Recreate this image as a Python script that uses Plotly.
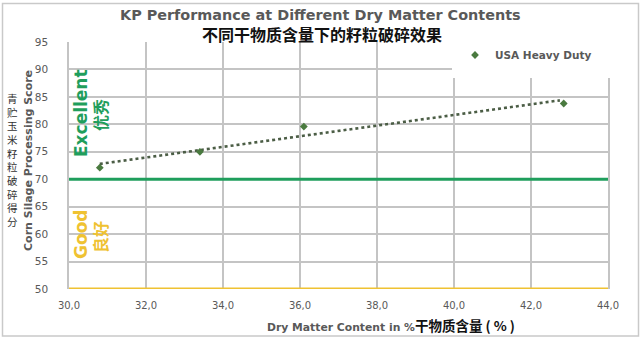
import numpy as np
import plotly.graph_objects as go

# ---- data ----
dry_matter = [30.8, 33.4, 36.1, 42.85]
score = [72.1, 75.0, 79.6, 83.8]
series_name = "USA Heavy Duty"
x_ticks = [30, 32, 34, 36, 38, 40, 42, 44]
x_tick_labels = ["30,0", "32,0", "34,0", "36,0", "38,0", "40,0", "42,0", "44,0"]
y_ticks = [50, 55, 60, 65, 70, 75, 80, 85, 90, 95]
thresholds = [70, 50]
zone_labels = [("Excellent", "优秀"), ("Good", "良好")]
zone_label_y = [113, 235]  # pixel centers (style only)

# ---- layout constants ----
W, H = 640, 339
L, R, T, B = 69, 32, 42, 50
PW, PH = W - L - R, H - T - B

def px_x(px):
    return (px - L) / PW

def px_y(py):
    return (H - B - py) / PH

LAT = "DejaVu Sans"
CJK = "Noto Sans CJK SC"
GRAY = "#595959"
GREEN = "#1f9e5c"
YELLOW = "#efc232"

# trendline (linear fit)
slope, icpt = np.polyfit(dry_matter, score, 1)
tx = [min(dry_matter), max(dry_matter) - 0.1]
ty = [slope * v + icpt for v in tx]

fig = go.Figure()
fig.add_trace(go.Scatter(
    x=tx, y=ty, mode="lines", showlegend=False, hoverinfo="skip",
    line=dict(color="#4b5d45", width=2.6, dash="dot"),
))
fig.add_trace(go.Scatter(
    x=dry_matter, y=score, mode="markers", name=series_name,
    marker=dict(symbol="diamond", size=6, color="#4a7a3f"),
))

shapes = []
# threshold lines
shapes.append(dict(type="line", xref="paper", yref="y", x0=0, x1=1,
                   y0=thresholds[0], y1=thresholds[0],
                   line=dict(color=GREEN, width=3), layer="above"))
shapes.append(dict(type="line", xref="paper", yref="y", x0=0, x1=1,
                   y0=thresholds[1], y1=thresholds[1],
                   line=dict(color=YELLOW, width=3), layer="above"))
# white box behind legend
shapes.append(dict(type="rect", xref="paper", yref="paper",
                   x0=px_x(452), x1=px_x(625), y0=px_y(78), y1=px_y(36),
                   fillcolor="white", line=dict(width=0), layer="above"))
# outer border
shapes.append(dict(type="rect", xref="paper", yref="paper",
                   x0=px_x(2.5), x1=px_x(638.5), y0=px_y(336), y1=px_y(3.5),
                   fillcolor="rgba(0,0,0,0)", line=dict(color="#c9c9c9", width=1.5),
                   layer="below"))

annotations = []
# titles
annotations.append(dict(xref="paper", yref="paper", x=px_x(320), y=px_y(15),
                        text="<b>KP Performance at Different Dry Matter Contents</b>",
                        showarrow=False, font=dict(family=LAT, size=14.4, color=GRAY),
                        xanchor="center", yanchor="middle"))
annotations.append(dict(xref="paper", yref="paper", x=px_x(322), y=px_y(34),
                        text="<b>不同干物质含量下的籽粒破碎效果</b>",
                        showarrow=False, font=dict(family=CJK, size=16, color="#111111"),
                        xanchor="center", yanchor="middle"))
# x title
annotations.append(dict(xref="paper", yref="paper", x=px_x(391), y=px_y(325),
                        text="<b>Dry Matter Content in %</b><span style='font-family:Noto Sans CJK SC;font-size:13.5px;color:#111111'><b>干物质含量 ( % )</b></span>",
                        showarrow=False, font=dict(family=LAT, size=10.8, color=GRAY),
                        xanchor="center", yanchor="middle"))
# y titles
annotations.append(dict(xref="paper", yref="paper", x=px_x(28), y=px_y(161),
                        text="<b>Corn Silage Processing Score</b>", textangle=-90,
                        showarrow=False, font=dict(family=LAT, size=11, color=GRAY),
                        xanchor="center", yanchor="middle"))
annotations.append(dict(xref="paper", yref="paper", x=px_x(12), y=px_y(160),
                        text="<br>".join(list("青贮玉米籽粒破碎得分")),
                        showarrow=False, font=dict(family=CJK, size=10.5, color="#333333"),
                        xanchor="center", yanchor="middle"))
# zone labels
for (en, zh), cy, col in zip(zone_labels, zone_label_y, [GREEN, YELLOW]):
    annotations.append(dict(xref="paper", yref="paper", x=px_x(81), y=px_y(cy),
                            text=f"<b>{en}</b>", textangle=-90, showarrow=False,
                            font=dict(family=LAT, size=17, color=col),
                            xanchor="center", yanchor="middle"))
    annotations.append(dict(xref="paper", yref="paper", x=px_x(100), y=px_y(cy + 2),
                            text=f"<b>{zh}</b>", textangle=-90, showarrow=False,
                            font=dict(family=CJK, size=16, color=col),
                            xanchor="center", yanchor="middle"))

fig.update_layout(
    width=W, height=H,
    margin=dict(l=L, r=R, t=T, b=B),
    paper_bgcolor="white", plot_bgcolor="white",
    font=dict(family=LAT, size=10, color=GRAY),
    shapes=shapes, annotations=annotations,
    legend=dict(x=px_x(455), y=px_y(55), xanchor="left", yanchor="middle",
                bgcolor="rgba(0,0,0,0)",
                font=dict(family=LAT, size=10.5, color=GRAY, weight="bold"),
                itemwidth=30),
    xaxis=dict(range=[30, 44], tickvals=x_ticks, ticktext=x_tick_labels,
               showgrid=True, gridcolor="#c4c4c4", gridwidth=1.5,
               zeroline=False, showline=False, ticks="",
               ticklabelstandoff=9,
               tickfont=dict(family=LAT, size=10, color=GRAY)),
    yaxis=dict(range=[50, 95], tickvals=y_ticks,
               showgrid=True, gridcolor="#c4c4c4", gridwidth=1.5,
               zeroline=False, showline=True, mirror=True,
               linecolor="#c4c4c4", linewidth=1.5, ticks="",
               ticklabelstandoff=17,
               tickfont=dict(family=LAT, size=10.5, color=GRAY)),
    showlegend=True,
)

fig.write_html("out.html")
